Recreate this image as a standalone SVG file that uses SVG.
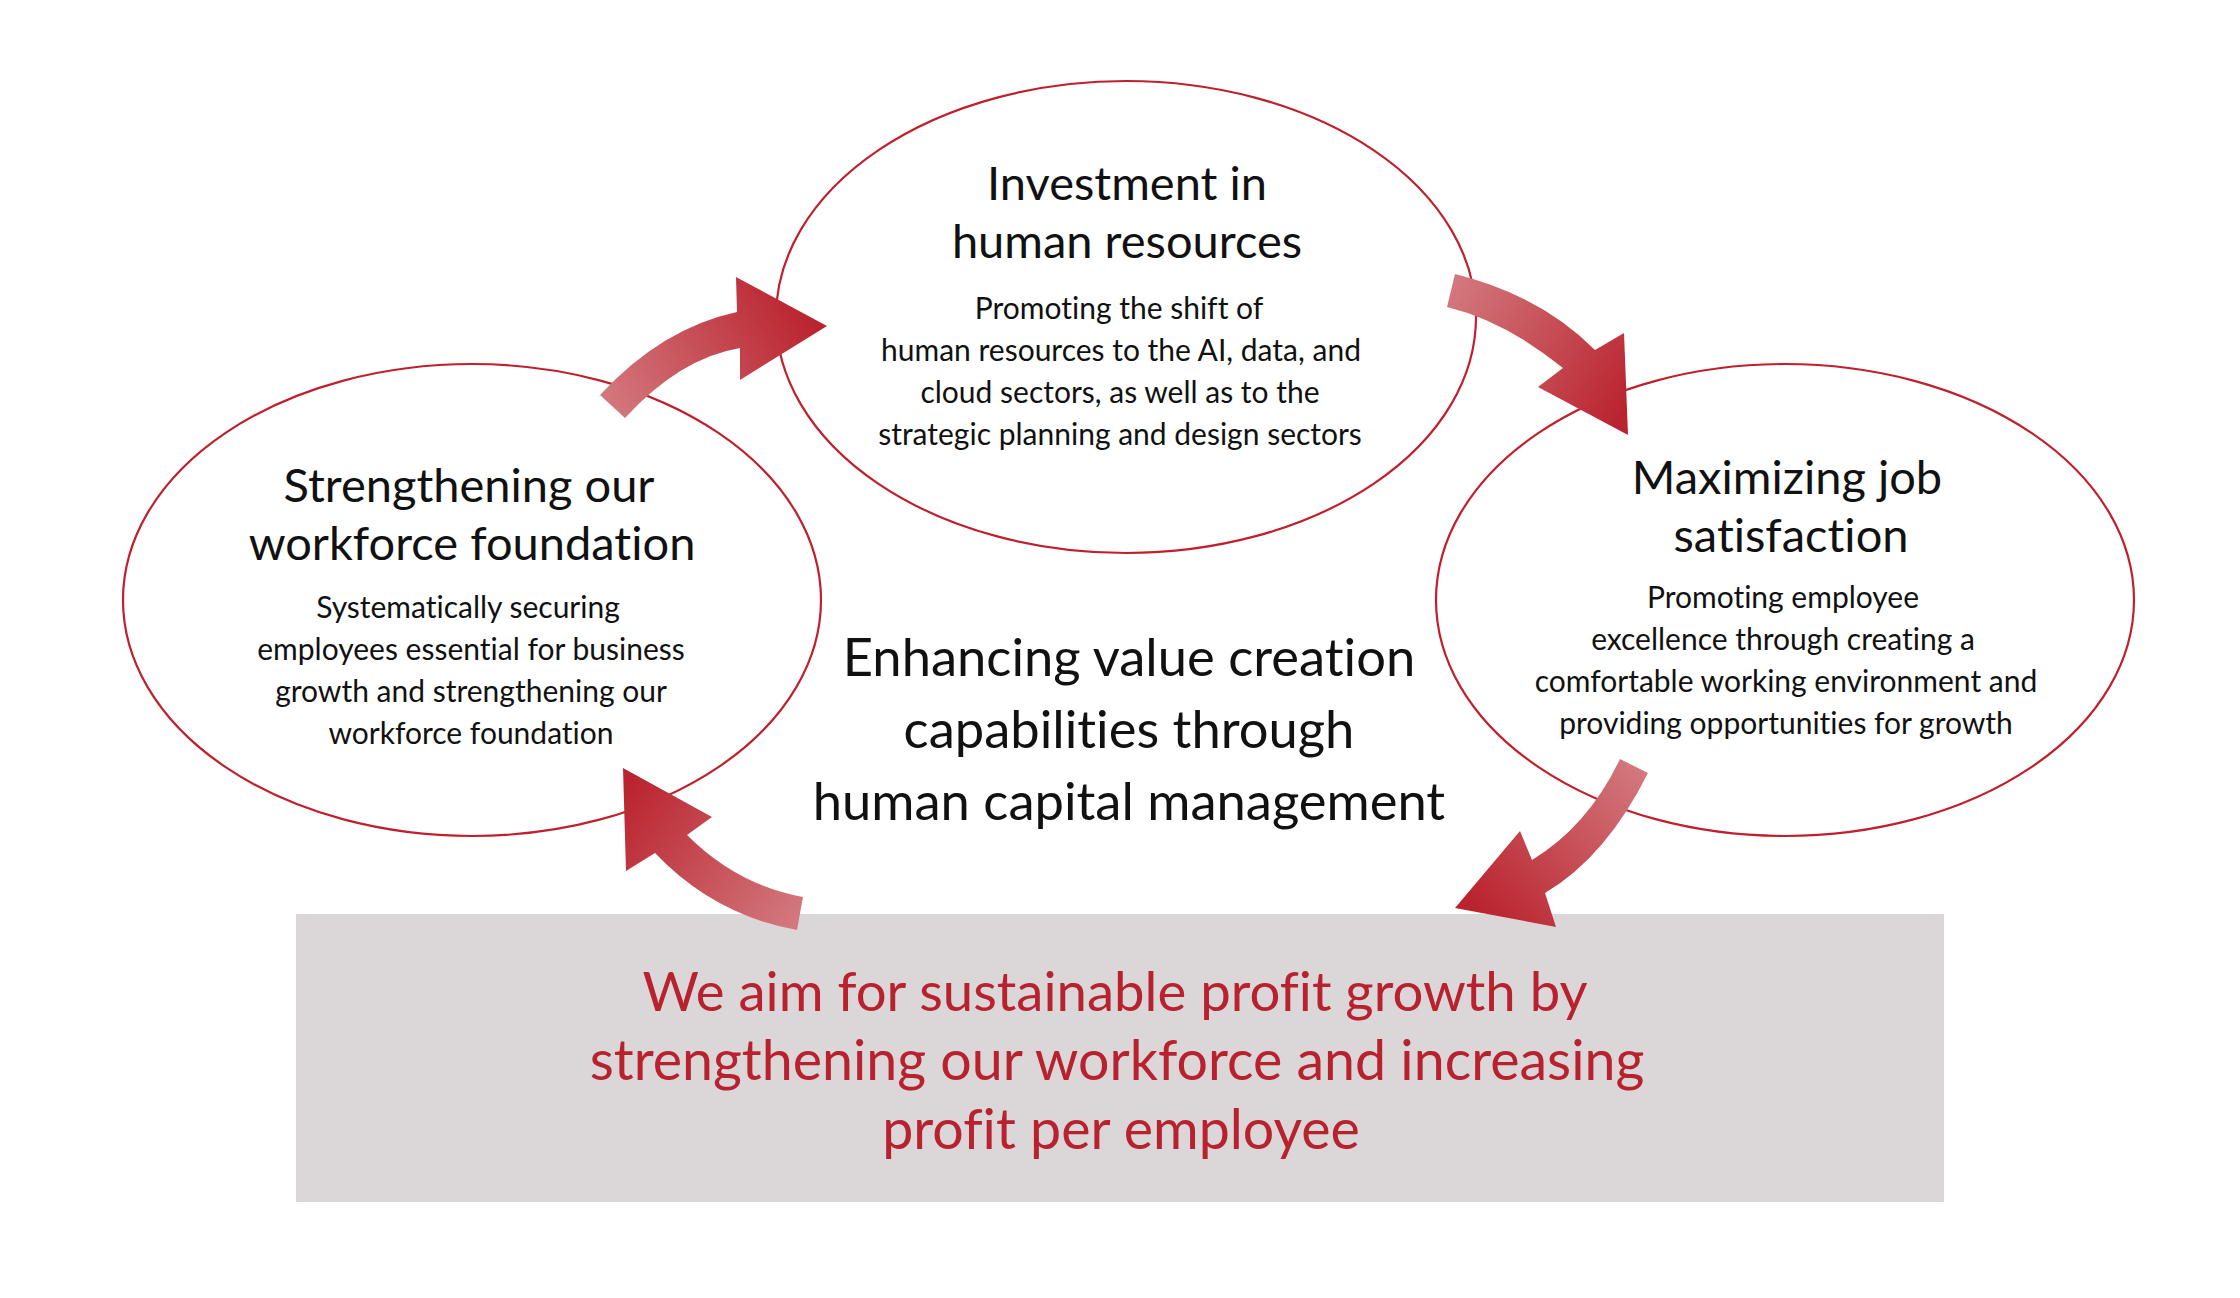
<svg xmlns="http://www.w3.org/2000/svg" width="2240" height="1298" viewBox="0 0 2240 1298">
<style>
.ell{fill:none;stroke:#c0202e;stroke-width:2.2}
.t{font-family:Lato,"Liberation Sans",sans-serif;fill:#111;text-anchor:middle;font-variant-ligatures:none}
.h{font-size:47px}
.s{font-size:30px}
.c{font-size:52.5px}
.r{font-family:Lato,"Liberation Sans",sans-serif;fill:#b8222f;text-anchor:middle;font-size:55.5px;font-variant-ligatures:none}
</style>
<defs>
<linearGradient id="g1" gradientUnits="userSpaceOnUse" x1="610" y1="410" x2="800" y2="300"><stop offset="0" stop-color="#d3787e"/><stop offset="1" stop-color="#ba242f"/></linearGradient>
<linearGradient id="g2" gradientUnits="userSpaceOnUse" x1="1450" y1="290" x2="1630" y2="400"><stop offset="0" stop-color="#d3787e"/><stop offset="1" stop-color="#ba242f"/></linearGradient>
<linearGradient id="g3" gradientUnits="userSpaceOnUse" x1="1635" y1="765" x2="1480" y2="910"><stop offset="0" stop-color="#d3787e"/><stop offset="1" stop-color="#ba242f"/></linearGradient>
<linearGradient id="g4" gradientUnits="userSpaceOnUse" x1="800" y1="915" x2="625" y2="790"><stop offset="0" stop-color="#d3787e"/><stop offset="1" stop-color="#ba242f"/></linearGradient>
</defs>
<rect width="2240" height="1298" fill="#fff"/>
<g id="goal">
<rect x="296" y="914" width="1648" height="288" fill="#dbd7d8"/>
<text class="r" x="1115" y="1011" style="font-size:54.5px">We aim for sustainable profit growth by</text>
<text class="r" x="1117" y="1080">strengthening our workforce and increasing</text>
<text class="r" x="1121" y="1149">profit per employee</text>
</g>
<g id="node-investment">
<ellipse class="ell" cx="1126" cy="317" rx="350" ry="236"/>
<text class="t h" x="1127" y="200">Investment in</text>
<text class="t h" x="1127" y="258">human resources</text>
<text class="t s" x="1119" y="319">Promoting the shift of</text>
<text class="t s" x="1121" y="361">human resources to the AI, data, and</text>
<text class="t s" x="1120" y="403">cloud sectors, as well as to the</text>
<text class="t s" x="1120" y="445">strategic planning and design sectors</text>
</g>
<g id="node-workforce">
<ellipse class="ell" cx="472" cy="600" rx="349" ry="236"/>
<text class="t h" x="469" y="502">Strengthening our</text>
<text class="t h" x="472" y="560">workforce foundation</text>
<text class="t s" x="468" y="618">Systematically securing</text>
<text class="t s" x="471" y="660">employees essential for business</text>
<text class="t s" x="471" y="702">growth and strengthening our</text>
<text class="t s" x="471" y="744">workforce foundation</text>
</g>
<g id="node-satisfaction">
<ellipse class="ell" cx="1785" cy="600" rx="349" ry="236"/>
<text class="t h" x="1787" y="494">Maximizing job</text>
<text class="t h" x="1791" y="552">satisfaction</text>
<text class="t s" x="1783" y="608">Promoting employee</text>
<text class="t s" x="1783" y="650">excellence through creating a</text>
<text class="t s" x="1786" y="692">comfortable working environment and</text>
<text class="t s" x="1786" y="734">providing opportunities for growth</text>
</g>
<g id="center">
<text class="t c" x="1129" y="676">Enhancing value creation</text>
<text class="t c" x="1129" y="748">capabilities through</text>
<text class="t c" x="1129" y="820">human capital management</text>
</g>
<g id="connectors">
<path fill="url(#g1)" d="M600,395 Q662,328 737,312 L736,277 L827,326 L740,380 L740,348 Q680,358 625,418 Z"/>
<path fill="url(#g2)" d="M1455,274 Q1540,295 1595,350 L1624,333 L1628,435 L1538,387 L1563,368 Q1505,321 1447,307 Z"/>
<path fill="url(#g3)" d="M1620,759 Q1588,826 1532,860 L1520,831 L1455,908 L1556,927 L1545,893 Q1606,857 1648,773 Z"/>
<path fill="url(#g4)" d="M803,897 Q737,885 687,835 L712,817 L623,768 L626,871 L655,853 Q714,915 797,930 Z"/>
</g>
</svg>
